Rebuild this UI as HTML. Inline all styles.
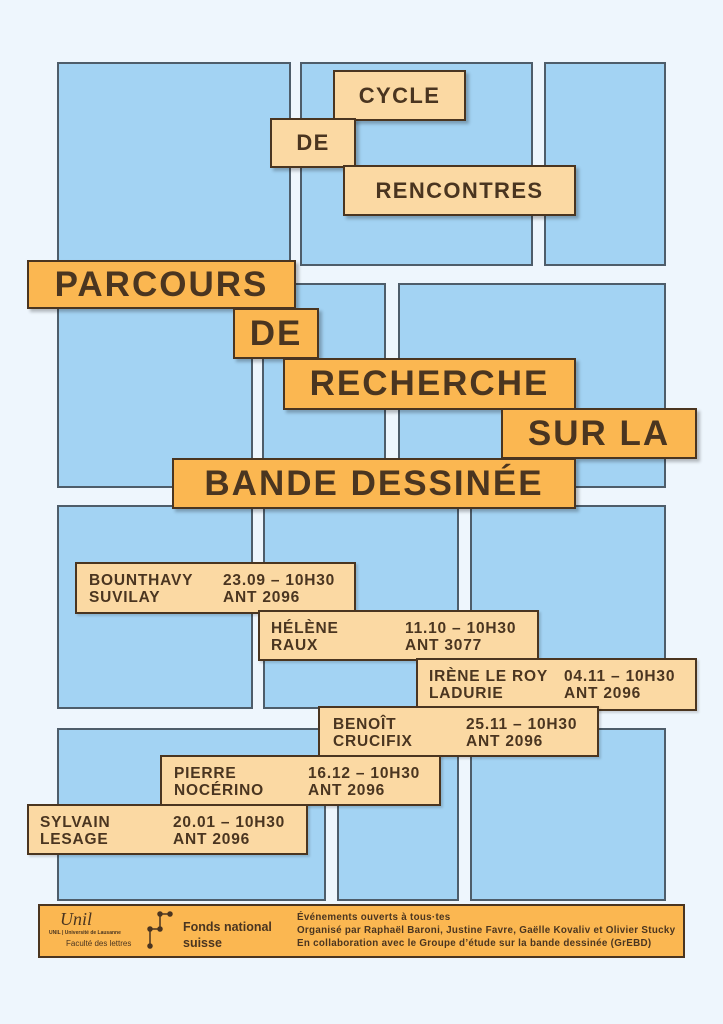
<!DOCTYPE html>
<html><head><meta charset="utf-8"><style>
body{margin:0;width:723px;height:1024px;background:#eef6fd;position:relative;overflow:hidden;font-family:"Liberation Sans",sans-serif;font-weight:bold;color:#4a3520}
.p{position:absolute;background:#a3d3f3;border:2px solid #4e5d6a;box-sizing:border-box}
.t{position:absolute;background:#fbb751;border:2px solid #4a3520;box-sizing:border-box;box-shadow:3px 3px 3px rgba(0,0,0,.25);display:flex;align-items:center;justify-content:center;white-space:nowrap}
.big{font-size:35px;letter-spacing:2px}
.sm{font-size:22px;letter-spacing:1.4px;background:#fbd9a3}
.s{position:absolute;background:#fbd9a3;border:2px solid #4a3520;box-sizing:border-box;box-shadow:2px 2px 2px rgba(0,0,0,.15);font-size:15.5px;line-height:17px;white-space:nowrap;letter-spacing:0.8px}
.s span{position:absolute;top:8px}
</style></head><body>
<div class="p" style="left:57px;top:62px;width:234px;height:201px"></div>
<div class="p" style="left:300px;top:62px;width:233px;height:204px"></div>
<div class="p" style="left:544px;top:62px;width:122px;height:204px"></div>
<div class="p" style="left:57px;top:275px;width:196px;height:213px"></div>
<div class="p" style="left:262px;top:283px;width:124px;height:205px"></div>
<div class="p" style="left:398px;top:283px;width:268px;height:205px"></div>
<div class="p" style="left:57px;top:505px;width:196px;height:204px"></div>
<div class="p" style="left:263px;top:505px;width:196px;height:204px"></div>
<div class="p" style="left:470px;top:505px;width:196px;height:204px"></div>
<div class="p" style="left:57px;top:728px;width:269px;height:173px"></div>
<div class="p" style="left:337px;top:728px;width:122px;height:173px"></div>
<div class="p" style="left:470px;top:728px;width:196px;height:173px"></div>

<div class="t sm" style="left:333px;top:70px;width:133px;height:51px">CYCLE</div>
<div class="t sm" style="left:270px;top:118px;width:86px;height:50px">DE</div>
<div class="t sm" style="left:343px;top:165px;width:233px;height:51px">RENCONTRES</div>

<div class="t big" style="left:27px;top:260px;width:269px;height:49px">PARCOURS</div>
<div class="t big" style="left:233px;top:308px;width:86px;height:51px">DE</div>
<div class="t big" style="left:283px;top:358px;width:293px;height:52px">RECHERCHE</div>
<div class="t big" style="left:501px;top:408px;width:196px;height:51px">SUR LA</div>
<div class="t big" style="left:172px;top:458px;width:404px;height:51px">BANDE DESSINÉE</div>

<div class="s" style="left:75px;top:562px;width:281px;height:52px"><span style="left:12px">BOUNTHAVY<br>SUVILAY</span><span style="left:146px">23.09 – 10H30<br>ANT 2096</span></div>
<div class="s" style="left:258px;top:610px;width:281px;height:51px"><span style="left:11px">HÉLÈNE<br>RAUX</span><span style="left:145px">11.10 – 10H30<br>ANT 3077</span></div>
<div class="s" style="left:416px;top:658px;width:281px;height:53px"><span style="left:11px">IRÈNE LE ROY<br>LADURIE</span><span style="left:146px">04.11 – 10H30<br>ANT 2096</span></div>
<div class="s" style="left:318px;top:706px;width:281px;height:51px"><span style="left:13px">BENOÎT<br>CRUCIFIX</span><span style="left:146px">25.11 – 10H30<br>ANT 2096</span></div>
<div class="s" style="left:160px;top:755px;width:281px;height:51px"><span style="left:12px">PIERRE<br>NOCÉRINO</span><span style="left:146px">16.12 – 10H30<br>ANT 2096</span></div>
<div class="s" style="left:27px;top:804px;width:281px;height:51px"><span style="left:11px">SYLVAIN<br>LESAGE</span><span style="left:144px">20.01 – 10H30<br>ANT 2096</span></div>

<div style="position:absolute;left:38px;top:904px;width:647px;height:54px;background:#fbb751;border:2px solid #4a3520;box-sizing:border-box">
 <div style="position:absolute;left:20px;top:3px;font-family:'Liberation Serif',serif;font-style:italic;font-size:18px;font-weight:normal">Unil</div>
 <div style="position:absolute;left:9px;top:24px;font-size:5px">UNIL | Université de Lausanne</div>
 <div style="position:absolute;left:26px;top:33px;font-size:8px;font-weight:normal">Faculté des lettres</div>
 <svg style="position:absolute;left:105px;top:5px" width="30" height="40"><g stroke="#4a3520" stroke-width="1.5" fill="#4a3520"><path d="M15 3H25M15 3V18M5 18H15M5 18V35" fill="none"/><circle cx="15" cy="3" r="2"/><circle cx="25" cy="3" r="2"/><circle cx="5" cy="18" r="2"/><circle cx="15" cy="18" r="2"/><circle cx="5" cy="35" r="2"/></g></svg>
 <div style="position:absolute;left:143px;top:13px;font-size:12.5px;line-height:16px">Fonds national<br>suisse</div>
 <div style="position:absolute;left:257px;top:5px;font-size:9.8px;line-height:13px;white-space:nowrap;letter-spacing:0.3px">Événements ouverts à tous·tes<br>Organisé par Raphaël Baroni, Justine Favre, Gaëlle Kovaliv et Olivier Stucky<br>En collaboration avec le Groupe d’étude sur la bande dessinée (GrEBD)</div>
</div>
</body></html>
